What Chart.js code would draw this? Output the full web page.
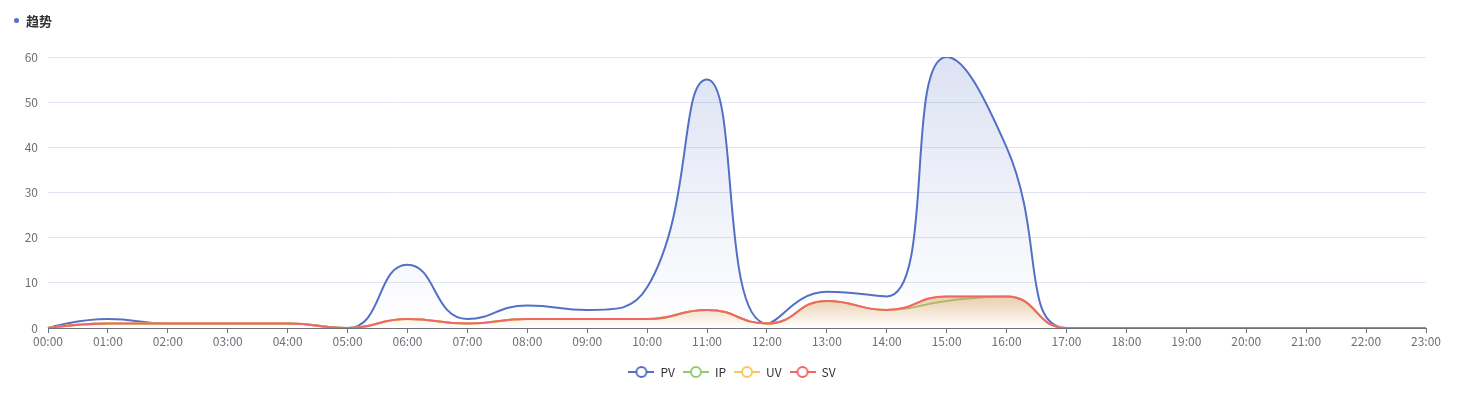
<!DOCTYPE html>
<html>
<head>
<meta charset="utf-8">
<script src="https://cdn.jsdelivr.net/npm/chart.js@4/dist/chart.umd.min.js"></script>
<style>
  body { margin: 0; background: #fff; }
  #wrap { position: relative; width: 1462px; height: 394px; }
  #title { position: absolute; left: 14px; top: 11px; font: bold 13px 'Microsoft YaHei', 'Noto Sans CJK SC', sans-serif; color: #333; }
  #title span.dot { display: inline-block; width: 5px; height: 5px; border-radius: 50%; background: #5470c6; margin-right: 7px; vertical-align: middle; position: relative; top: -2px; }
</style>
</head>
<body>
<div id="wrap">
  <div id="title"><span class="dot"></span>趋势</div>
  <canvas id="trendChart" width="1462" height="394"></canvas>
</div>
<script>
// horas del eje x
var hours = ['00:00','01:00','02:00','03:00','04:00','05:00','06:00','07:00','08:00','09:00','10:00','11:00',
             '12:00','13:00','14:00','15:00','16:00','17:00','18:00','19:00','20:00','21:00','22:00','23:00'];
var pv = [0, 2, 1, 1, 1, 0, 14, 2, 5, 4, 9, 55, 1, 8, 7, 60, 40, 0, 0, 0, 0, 0, 0, 0];
var ip = [0, 1, 1, 1, 1, 0, 2, 1, 2, 2, 2, 4, 1, 6, 4, 6, 7, 0, 0, 0, 0, 0, 0, 0];
var uv = [0, 1, 1, 1, 1, 0, 2, 1, 2, 2, 2, 4, 1, 6, 4, 7, 7, 0, 0, 0, 0, 0, 0, 0];
var sv = [0, 1, 1, 1, 1, 0, 2, 1, 2, 2, 2, 4, 1, 6, 4, 7, 7, 0, 0, 0, 0, 0, 0, 0];
var yTicks = [0, 10, 20, 30, 40, 50, 60];

var fontFamily = "'Microsoft YaHei', 'Noto Sans CJK SC', sans-serif";
var colors = ['#5470c6', '#91cc75', '#fac858', '#ee6666'];

// icono de leyenda: linea con circulo hueco
function legendIcon(color) {
    var c = document.createElement('canvas');
    c.width = 26; c.height = 14;
    var g = c.getContext('2d');
    g.strokeStyle = color;
    g.lineWidth = 2;
    g.beginPath(); g.moveTo(0, 7); g.lineTo(26, 7); g.stroke();
    g.fillStyle = '#fff';
    g.beginPath(); g.arc(13, 7, 5, 0, Math.PI * 2); g.fill(); g.stroke();
    return c;
}

// degradado desde el maximo de la serie hasta el cero
function areaGradient(rgb, a1, a2) {
    return function(ctx) {
        var chart = ctx.chart;
        var area = chart.chartArea;
        if (!area) return 'rgba(0,0,0,0)';
        var data = chart.data.datasets[ctx.datasetIndex].data;
        var top = chart.scales.y.getPixelForValue(Math.max.apply(null, data));
        var g = chart.ctx.createLinearGradient(0, top, 0, area.bottom);
        g.addColorStop(0, 'rgba(' + rgb + ',' + a1 + ')');
        g.addColorStop(1, 'rgba(' + rgb + ',' + a2 + ')');
        return g;
    };
}

function clamp(v, a, b) {
    return Math.max(Math.min(v, Math.max(a, b)), Math.min(a, b));
}

// suavizado tipo echarts: puntos de control limitados entre vecinos
var smoothPlugin = {
    id: 'smoothPlugin',
    afterDatasetsUpdate: function(chart) {
        var s = 0.5;
        chart.data.datasets.forEach(function(ds, di) {
            var meta = chart.getDatasetMeta(di);
            var pts = meta.data;
            if (!pts.length) return;
            pts[0].cp1x = pts[0].x; pts[0].cp1y = pts[0].y;
            pts[0].cp2x = pts[0].x; pts[0].cp2y = pts[0].y;
            for (var i = 1; i < pts.length; i++) {
                var p = pts[i], prev = pts[i - 1], next = pts[i + 1];
                if (!next) {
                    p.cp1x = p.x; p.cp1y = p.y; p.cp2x = p.x; p.cp2y = p.y;
                    continue;
                }
                var l0 = Math.hypot(p.x - prev.x, p.y - prev.y);
                var l1 = Math.hypot(next.x - p.x, next.y - p.y);
                var r = l1 / (l0 + l1);
                var vx = next.x - prev.x, vy = next.y - prev.y;
                var nx = clamp(p.x + vx * s * r, next.x, p.x);
                var ny = clamp(p.y + vy * s * r, next.y, p.y);
                vx = nx - p.x; vy = ny - p.y;
                var c1x = clamp(p.x - vx * l0 / l1, prev.x, p.x);
                var c1y = clamp(p.y - vy * l0 / l1, prev.y, p.y);
                vx = p.x - c1x; vy = p.y - c1y;
                p.cp1x = c1x; p.cp1y = c1y;
                p.cp2x = p.x + vx * l1 / l0; p.cp2y = p.y + vy * l1 / l0;
            }
            meta.dataset._pointsUpdated = true;
            meta.dataset._path = undefined;
        });
    },
    afterLayout: function(chart) {
        // centrar la leyenda en todo el ancho
        if (chart.legend) {
            chart.legend.left += 19;
            chart.legend.right += 19;
        }
    }
};

var ctx = document.getElementById('trendChart').getContext('2d');
var trendChart = new Chart(ctx, {
    type: 'line',
    data: {
        labels: hours,
        datasets: [
            { label: 'PV', data: pv, borderColor: colors[0], backgroundColor: areaGradient('84,112,198', 0.2, 0.0), fill: 'origin', order: 4 },
            { label: 'IP', data: ip, borderColor: colors[1], fill: false, order: 3 },
            { label: 'UV', data: uv, borderColor: colors[2], backgroundColor: areaGradient('250,200,88', 0.2, 0.0), fill: 'origin', order: 2 },
            { label: 'SV', data: sv, borderColor: colors[3], backgroundColor: areaGradient('205,140,90', 0.35, 0.0), fill: 'origin', order: 1 }
        ]
    },
    plugins: [smoothPlugin],
    options: {
        responsive: false,
        animation: false,
        layout: { padding: { top: 57, right: 36, left: 0, bottom: 6 } },
        elements: {
            line: { tension: 0.4, borderWidth: 2 },
            point: { radius: 0, hoverRadius: 0 }
        },
        scales: {
            x: {
                offset: false,
                grid: { drawOnChartArea: false, drawTicks: true, tickLength: 5, color: '#6e7079' },
                border: { color: '#6e7079', width: 1 },
                ticks: { color: '#6e7079', font: { size: 12, family: fontFamily }, autoSkip: false, maxRotation: 0, padding: 1 },
                afterFit: function(s) { s.height = 30; }
            },
            y: {
                min: 0, max: 60,
                afterBuildTicks: function(s) { s.ticks = yTicks.map(function(v) { return { value: v }; }); },
                grid: { color: '#e0e6f1', drawTicks: false },
                border: { display: false },
                ticks: { color: '#6e7079', font: { size: 12, family: fontFamily }, padding: 10 },
                afterFit: function(s) { s.width = 48; }
            }
        },
        plugins: {
            tooltip: { enabled: false },
            legend: {
                position: 'bottom',
                labels: {
                    usePointStyle: true,
                    pointStyleWidth: 26,
                    boxHeight: 14,
                    padding: 8,
                    color: '#333',
                    font: { size: 12, family: fontFamily },
                    generateLabels: function(chart) {
                        return chart.data.datasets.map(function(ds, i) {
                            return {
                                text: ds.label,
                                pointStyle: legendIcon(colors[i]),
                                fillStyle: colors[i],
                                strokeStyle: colors[i],
                                lineWidth: 0,
                                fontColor: '#333',
                                datasetIndex: i,
                                hidden: false
                            };
                        });
                    }
                }
            }
        }
    }
});
</script>
</body>
</html>
